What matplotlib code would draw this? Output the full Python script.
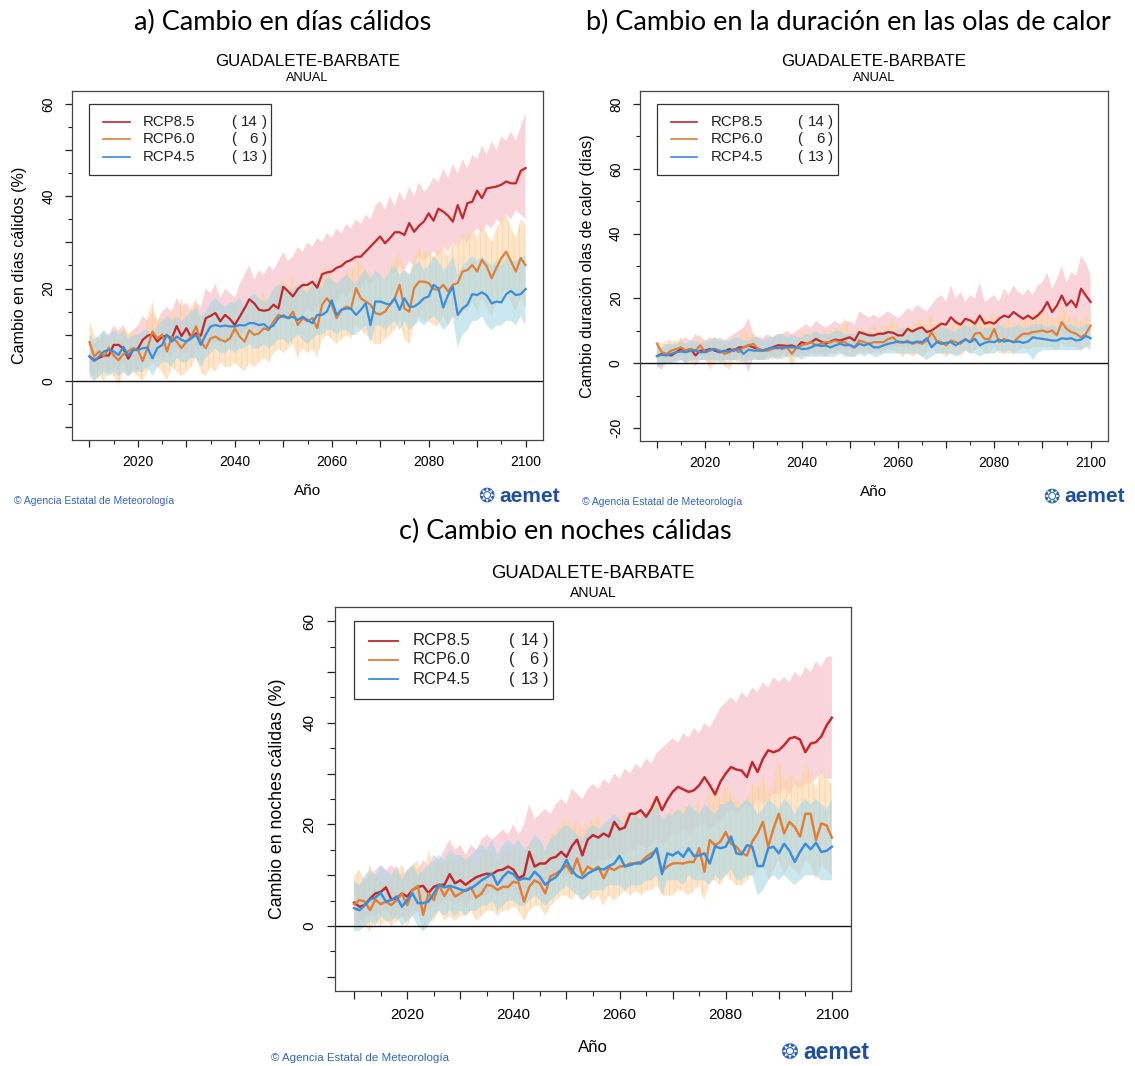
import numpy as np
import matplotlib
matplotlib.use("Agg")
import matplotlib.pyplot as plt
from matplotlib.patches import Rectangle

years = np.arange(2010, 2101)

# a) Cambio en días cálidos (%)
dc_85 = [5.3, 4.5, 5, 5.5, 5.5, 7.8, 7.8, 7, 4.8, 6.7,
         7, 8.9, 9.8, 10.1, 8.5, 9.6, 9.8, 9.2, 11.9, 9.7,
         11.4, 9.4, 10.3, 9.8, 13.6, 14.1, 14.7, 12.9, 14.3, 13.4,
         12.1, 13.9, 15.7, 17.7, 16.8, 15.4, 15.2, 15.4, 16.5, 15.7,
         20.4, 19.4, 18.3, 19.9, 20.8, 20.8, 21.5, 20.2, 23.1, 23.5,
         23.7, 24.5, 24.9, 25.8, 26.2, 26.9, 26.9, 28, 29.1, 30.2,
         31.3, 29.8, 30.9, 32.2, 32.2, 31.6, 34.2, 32.3, 33.6, 34.5,
         36.3, 34.7, 37.3, 36.7, 35.8, 34.5, 38.1, 35.2, 38.5, 38.8,
         41.2, 39.6, 41.7, 41.9, 42.1, 42.5, 43.2, 42.8, 42.8, 45.5,
         46.1]
dc_85_hi = [9, 8, 9, 10, 10, 12, 11, 12, 10, 11,
            12, 14, 13, 15, 13, 15, 16, 15, 18, 16,
            17, 15, 17, 16, 20, 19, 21, 18, 20, 19,
            18, 21, 23, 25, 22, 24, 23, 25, 24, 26,
            28, 26, 27, 29, 28, 30, 29, 31, 30, 32,
            31, 33, 32, 34, 33, 35, 34, 36, 35, 38,
            39, 37, 40, 38, 41, 39, 42, 40, 43, 41,
            42, 44, 43, 46, 44, 47, 45, 48, 46, 49,
            48, 51, 49, 52, 50, 53, 52, 54, 52, 55,
            58]
dc_85_lo = [2, 1, 2, 3, 2, 3, 2, 4, 1, 3,
            2, 4, 5, 4, 6, 5, 6, 5, 7, 6,
            6, 5, 7, 6, 8, 9, 8, 9, 8, 9,
            8, 10, 11, 12, 11, 10, 12, 11, 12, 13,
            14, 13, 14, 15, 14, 16, 15, 16, 17, 18,
            18, 17, 19, 18, 20, 21, 20, 22, 21, 22,
            23, 22, 24, 23, 25, 24, 26, 25, 27, 26,
            27, 28, 27, 29, 28, 30, 29, 31, 30, 32,
            33, 32, 34, 33, 35, 34, 36, 35, 37, 36,
            35]
dc_60 = [8.4, 5.3, 6.4, 5.3, 7.2, 5.5, 4.5, 5.8, 6.4, 7.1,
         6.7, 4.3, 7.2, 10.7, 9.2, 10, 6.4, 9.6, 8.5, 7.1,
         8.5, 9.6, 11.8, 8.5, 7.1, 9.2, 9.6, 8.9, 8.5, 9.2,
         11.4, 9.6, 8.5, 11, 10, 10.3, 11.4, 11, 12.9, 14.3,
         13.9, 13.6, 15, 12.1, 13.6, 12.9, 13.6, 11.4, 16.5, 17.9,
         16.5, 13.6, 15.4, 16.1, 15.7, 20.1, 17.9, 17.2, 16.5, 14.7,
         14.4, 15, 16.5, 17.9, 20.8, 15.7, 15, 20.1, 21.5, 21.5,
         21.2, 19.9, 19.7, 20.8, 19.4, 20.8, 21.2, 23.7, 24, 25.1,
         23.7, 26.2, 24.8, 22.2, 24.5, 26.6, 28, 25.9, 23.7, 26.6,
         25.1]
dc_60_hi = [13, 10, 9, 11, 8, 10, 9, 12, 10, 11,
            10, 9, 14, 17, 13, 14, 12, 16, 13, 18,
            14, 16, 18, 13, 12, 15, 17, 14, 15, 16,
            18, 15, 14, 17, 16, 18, 19, 17, 20, 21,
            22, 20, 23, 19, 21, 20, 22, 19, 24, 25,
            23, 21, 22, 24, 23, 27, 25, 24, 23, 22,
            23, 22, 25, 26, 28, 24, 23, 27, 29, 28,
            28, 27, 28, 29, 27, 30, 29, 32, 31, 33,
            31, 34, 32, 30, 33, 35, 36, 33, 31, 35,
            34]
dc_60_lo = [2, 0, 1, 0, 2, 1, -1, 2, 1, 2,
            1, 0, 2, 4, 3, 2, 0, 3, 2, 1,
            2, 3, 5, 2, 1, 3, 2, 4, 3, 3,
            4, 3, 2, 4, 3, 4, 5, 4, 6, 7,
            6, 7, 8, 5, 7, 6, 7, 5, 9, 10,
            9, 8, 9, 10, 9, 12, 11, 10, 9, 8,
            8, 9, 10, 11, 13, 9, 8, 12, 14, 13,
            13, 12, 12, 14, 12, 14, 13, 16, 15, 17,
            15, 18, 16, 14, 17, 18, 20, 17, 15, 18,
            16]
dc_45 = [5.3, 4.3, 5.3, 6.4, 6.7, 6.4, 5.6, 7.4, 5.5, 6.7,
         6.7, 7.1, 7.2, 4.9, 7.1, 7.8, 10, 8.5, 9.6, 8.9,
         8.5, 9.2, 10, 7.8, 10, 11.8, 12.1, 11.8, 12, 11.8,
         11.8, 12.1, 12, 12.5, 12.5, 12.1, 12.3, 11.4, 12, 13.6,
         14.2, 13.6, 13.9, 13.2, 13.9, 13.2, 12.5, 14.3, 14.3, 15,
         17.5, 14.3, 15.4, 15.7, 15.6, 14.3, 15.4, 16.8, 12.1, 17.2,
         17.2, 16.8, 16.5, 17.9, 15.4, 17.9, 16.1, 16.1, 16.8, 17.9,
         18.3, 20.8, 20.1, 15.9, 18.6, 20.4, 14.3, 15.7, 16.5, 18.8,
         18.6, 19.2, 18.5, 16.8, 17.2, 17, 18.8, 19.5, 18.6, 18.8,
         19.9]
dc_45_hi = [10, 9, 10, 11, 10, 11, 10, 11, 9, 10,
            10, 11, 11, 10, 12, 13, 14, 13, 14, 13,
            14, 15, 16, 14, 15, 17, 18, 17, 16, 17,
            17, 18, 16, 18, 19, 18, 17, 18, 20, 21,
            20, 19, 20, 21, 20, 19, 21, 22, 20, 23,
            22, 21, 22, 23, 22, 21, 23, 24, 22, 24,
            23, 22, 24, 25, 23, 24, 23, 25, 26, 24,
            25, 27, 26, 24, 25, 27, 23, 25, 26, 27,
            26, 27, 26, 25, 26, 25, 27, 26, 26, 27,
            27]
dc_45_lo = [1, 0, 1, 2, 1, 2, 1, 2, 1, 2,
            2, 2, 3, 1, 3, 4, 4, 3, 5, 4,
            4, 5, 5, 3, 5, 6, 7, 6, 6, 7,
            6, 7, 7, 8, 7, 7, 8, 7, 8, 9,
            9, 8, 9, 10, 9, 8, 9, 10, 10, 11,
            11, 10, 11, 11, 10, 10, 11, 12, 8, 12,
            12, 11, 12, 13, 11, 13, 11, 12, 13, 12,
            13, 14, 13, 11, 12, 14, 7, 10, 11, 13,
            13, 14, 12, 11, 12, 12, 13, 13, 12, 14,
            12]

# b) Cambio duración olas de calor (días)
ol_85 = [2.2, 2.9, 2.6, 2.4, 3.4, 4.4, 3.9, 4.4, 2.4, 3.9,
         3.9, 4.4, 3.9, 3.4, 3.6, 4.4, 3.9, 4.9, 4.9, 5.5,
         4.9, 4.4, 3.9, 4.4, 4.9, 5.5, 5.5, 5.3, 5.5, 4.9,
         6.5, 6, 6.5, 7.5, 6.7, 6, 6.7, 7.3, 7, 7.5,
         8, 7, 9.6, 9.1, 8.6, 8.6, 9.1, 9.1, 9.6, 9.4,
         8.6, 8.6, 10.6, 9.8, 10.6, 11.1, 9.6, 10.1, 11.1, 12.2,
         11.9, 14.2, 12.7, 11.9, 13.7, 13.2, 12.2, 14.7, 12.2, 12.7,
         12.2, 13.7, 14.7, 14.2, 15.8, 14.7, 13.7, 14.7, 13.7, 14.7,
         16.3, 18.9, 15.8, 17.8, 20.9, 17.8, 19.4, 17.3, 23, 20.9,
         18.9]
ol_85_hi = [5, 4, 6, 5, 6, 7, 8, 7, 9, 8,
            7, 8, 7, 8, 7, 8, 9, 10, 11, 14,
            9, 8, 8, 9, 8, 9, 9, 10, 9, 10,
            11, 12, 11, 13, 12, 11, 12, 13, 12, 13,
            13, 12, 16, 15, 14, 15, 14, 15, 16, 15,
            14, 15, 17, 16, 18, 17, 16, 18, 20, 21,
            19, 24, 20, 22, 19, 21, 20, 25, 19, 20,
            21, 19, 23, 21, 24, 22, 21, 23, 21, 24,
            25, 28, 23, 26, 30, 25, 28, 27, 33, 31,
            27]
ol_85_lo = [-1, -2, 0, 0, 1, 1, 0, 1, -1, 1,
            1, 0, 1, 1, 1, 1, 1, 2, 1, -3,
            2, 1, 1, 2, 2, 2, 3, 2, 3, 2,
            3, 2, 3, 3, 3, 2, 3, 3, 4, 3,
            4, 3, 4, 4, 4, 4, 4, 4, 5, 5,
            5, 5, 5, 5, 5, 6, 5, 5, 6, 6,
            7, 7, 6, 7, 7, 7, 6, 8, 7, 7,
            7, 8, 8, 8, 8, 7, 8, 8, 8, 9,
            8, 9, 8, 9, 10, 8, 10, 9, 10, 11,
            10]
ol_60 = [6, 3.4, 2.9, 3.9, 4.4, 4.9, 3.9, 4.4, 3.9, 5.5,
         3.4, 3.9, 4.4, 3.9, 2.9, 3.4, 4.4, 3.4, 4.9, 5.5,
         6, 4.4, 3.9, 3.9, 4.4, 4.9, 4.4, 4.9, 2.9, 4.9,
         5.5, 6, 6.5, 5.5, 6, 6.5, 6.5, 7, 6.5, 6.5,
         5.5, 4.9, 7, 6.5, 6, 6.5, 6.5, 6.5, 7.5, 8,
         6.5, 6.3, 7, 6, 6.5, 6, 7, 9.6, 7, 6.5,
         5.5, 7, 6.5, 6, 7.5, 6.5, 9.1, 9.4, 7.5, 7.5,
         10.6, 6.5, 7.5, 7, 6.5, 8, 9.1, 9.1, 9.6, 9.8,
         10.1, 9.6, 10.1, 8.6, 12.7, 10.6, 9.6, 9.1, 8, 9.1,
         11.6]
ol_60_hi = [7, 6, 7, 7, 7, 8, 6, 7, 6, 9,
            6, 7, 8, 7, 6, 7, 8, 7, 11, 9,
            9, 7, 7, 6, 7, 8, 8, 9, 6, 8,
            10, 9, 10, 9, 9, 10, 10, 11, 10, 14,
            10, 9, 11, 10, 11, 12, 10, 11, 12, 14,
            11, 10, 12, 11, 14, 13, 12, 15, 12, 13,
            10, 12, 13, 12, 13, 12, 14, 15, 13, 14,
            16, 11, 13, 14, 12, 13, 14, 15, 14, 16,
            15, 16, 14, 13, 18, 15, 14, 14, 13, 14,
            16]
ol_60_lo = [2, 0, 0, 1, 1, 2, 1, 0, 1, 2,
            1, -2, 0, 1, -1, -2, 1, 0, 1, 2,
            2, 1, 1, 2, 1, 2, 1, 2, -1, 2,
            2, 3, 3, 2, 3, 3, 3, 4, 3, 3,
            2, 2, 3, 3, 3, 3, 3, 3, 4, 4,
            3, 2, 3, 2, 3, 2, 3, 5, 3, 3,
            2, 3, 3, 2, 4, 3, 4, 5, 3, 3,
            5, 3, 3, 3, 3, 4, 5, 4, 5, 5,
            5, 5, 5, 4, 6, 5, 5, 5, 4, 5,
            6]
ol_45 = [2.2, 2.6, 2.4, 2.9, 3.4, 3.6, 3.4, 3.9, 3.9, 3.4,
         3.4, 4.2, 4.4, 3.4, 3.9, 3.6, 4.2, 4.4, 2.9, 4.2,
         3.9, 3.9, 3.9, 4.4, 4.9, 4.6, 4.9, 4.9, 4.9, 4.9,
         4.4, 4.4, 4.9, 5.7, 5.3, 5.5, 4.9, 5.5, 6, 5.5,
         5.7, 4.9, 6, 5.5, 6, 4.9, 4.9, 5.5, 6, 6.3,
         6.7, 6.5, 6.5, 6.3, 6.7, 6.5, 7.7, 4.9, 6.5, 6,
         6.3, 6.5, 5.5, 6.5, 7.3, 6.5, 7.5, 5.5, 6.3, 6.7,
         6.5, 7.3, 6.7, 7, 6.5, 6.7, 6.3, 6.7, 8, 7.7,
         7.5, 7.3, 7, 7, 7.7, 7.5, 7.7, 7, 7.3, 8.4,
         7.7]
ol_45_hi = [5, 5, 6, 6, 6, 7, 6, 7, 7, 6,
            7, 7, 8, 7, 7, 7, 8, 8, 7, 7,
            8, 8, 7, 8, 8, 9, 9, 8, 9, 8,
            8, 9, 9, 10, 9, 9, 9, 10, 10, 9,
            9, 9, 10, 9, 10, 9, 9, 10, 10, 10,
            10, 11, 10, 10, 11, 10, 11, 10, 10, 11,
            11, 10, 10, 11, 12, 11, 12, 10, 11, 11,
            11, 12, 11, 11, 11, 12, 11, 11, 12, 12,
            12, 11, 12, 11, 12, 12, 12, 11, 11, 12,
            12]
ol_45_lo = [-1, -1, 0, 0, 0, 1, 0, 1, 1, 1,
            1, 1, 1, 0, 1, 1, 1, 1, 0, 1,
            1, 1, 1, 1, 2, 1, 2, 2, 2, 2,
            1, 2, 2, 2, 2, 2, 2, 2, 3, 2,
            2, 2, 3, 2, 3, 2, 2, 3, 3, 3,
            3, 3, 3, 3, 3, 2, 1, 2, 3, 3,
            3, 3, 2, 3, 4, 3, 3, 2, 3, 3,
            3, 4, 3, 4, 3, 3, 3, 3, 1, 3,
            4, 4, 4, 4, 4, 4, 4, 4, 4, 5,
            4]

# c) Cambio en noches cálidas (%)
nc_85 = [4.6, 3.8, 4.1, 5.4, 6.4, 6.7, 7.6, 5.2, 5.4, 6.4,
         5.8, 7.1, 7.7, 7.9, 6.5, 7.7, 8.1, 8.1, 10.2, 8.4,
         9, 8.1, 8.9, 9.6, 10, 10.3, 10.2, 10.9, 11.1, 11.7,
         11.1, 9.4, 10, 14.6, 11.7, 12.3, 12.3, 13.3, 13.6, 14.6,
         13.6, 15.7, 17, 13.9, 17, 17.9, 17.4, 18.2, 17.6, 20.5,
         19, 19.4, 22.1, 22.1, 22.8, 21.5, 23.1, 25.4, 22.8, 24.8,
         26.4, 27.4, 26.9, 26.4, 26.7, 27.7, 29.3, 27.7, 25.9, 28.4,
         30, 31.3, 30.8, 30.6, 29.3, 32.3, 30.3, 32.9, 34.6, 34.2,
         34.6, 35.6, 36.9, 37.2, 36.7, 34.2, 35.9, 36.2, 37.3, 39.5,
         41]
nc_85_hi = [9, 8, 9, 10, 11, 12, 11, 12, 11, 10,
            11, 12, 11, 13, 12, 14, 13, 15, 17, 15,
            16, 14, 16, 15, 17, 18, 17, 18, 19, 18,
            20, 18, 20, 24, 21, 22, 23, 22, 24, 25,
            24, 27, 26, 25, 27, 28, 27, 29, 28, 30,
            29, 31, 30, 32, 31, 33, 32, 34, 35, 36,
            37, 36, 38, 37, 39, 38, 40, 39, 41, 43,
            44, 45, 44, 46, 45, 47, 46, 48, 47, 49,
            48, 49, 48, 50, 49, 51, 50, 52, 51, 53,
            53]
nc_85_lo = [1, 0, 1, 2, 2, 3, 3, 2, 1, 2,
            2, 3, 3, 4, 3, 4, 4, 5, 5, 4,
            5, 4, 5, 5, 6, 6, 7, 6, 7, 7,
            7, 6, 7, 8, 8, 8, 9, 9, 10, 10,
            10, 11, 11, 10, 12, 12, 13, 13, 13, 14,
            14, 14, 15, 15, 16, 15, 16, 17, 16, 17,
            18, 18, 19, 18, 19, 20, 20, 19, 20, 21,
            22, 23, 22, 23, 24, 23, 25, 24, 25, 26,
            26, 27, 26, 28, 27, 28, 28, 29, 30, 29,
            29]
nc_60 = [4.3, 5.1, 4.8, 3.1, 5.2, 4.3, 4.8, 4.1, 5.1, 6.4,
         4.1, 7.1, 7.9, 2.2, 6.4, 5.1, 8.1, 5.9, 7.7, 5.8,
         6.4, 7.1, 7.6, 5.6, 6.4, 8.1, 7.9, 7.1, 7.7, 7.7,
         8.7, 8.5, 4.8, 7.7, 9, 8.4, 6.4, 9.8, 10.3, 11,
         12, 10.3, 13.3, 10, 11.7, 11, 11.7, 9.4, 11.5, 11,
         11.7, 11.8, 12.3, 12.4, 12.6, 13.6, 14.3, 14.9, 10.7, 11.7,
         12.3, 12.4, 12.3, 12.6, 12.6, 15.3, 10.7, 16.9, 15.9, 16.6,
         18.5, 16.2, 15.6, 14.3, 13.9, 16.6, 18.2, 20.5, 15.6, 19.2,
         22.1, 18.2, 20.5, 19.5, 17.6, 22.1, 22.1, 16.9, 20.2, 19.8,
         17.4]
nc_60_hi = [10, 11, 9, 12, 10, 9, 8, 10, 11, 12,
            10, 12, 13, 9, 15, 11, 13, 12, 14, 12,
            13, 14, 13, 12, 14, 15, 14, 13, 14, 15,
            15, 16, 13, 17, 16, 17, 14, 18, 19, 20,
            22, 19, 21, 19, 20, 21, 22, 18, 21, 20,
            21, 22, 21, 23, 22, 23, 24, 25, 21, 22,
            23, 22, 24, 23, 22, 25, 21, 26, 27, 25,
            28, 26, 25, 24, 25, 28, 27, 30, 26, 28,
            33, 28, 30, 29, 28, 32, 30, 27, 31, 29,
            28]
nc_60_lo = [-1, 1, 0, -1, 1, 0, 1, 0, 1, 2,
            0, 2, 3, -1, 1, 1, 3, 1, 2, 1,
            2, 2, 3, 1, 2, 3, 3, 2, 3, 3,
            4, 3, 1, 3, 4, 4, 2, 4, 5, 6,
            6, 5, 7, 5, 6, 5, 6, 4, 6, 5,
            6, 7, 6, 7, 6, 7, 7, 8, 6, 6,
            6, 7, 7, 6, 7, 8, 5, 9, 9, 8,
            10, 9, 8, 8, 9, 10, 11, 12, 9, 11,
            13, 10, 12, 11, 10, 13, 12, 9, 12, 11,
            10]
nc_45 = [3.5, 3.1, 4.1, 5.2, 5.6, 6.5, 4.8, 5.1, 5.8, 3.8,
         5.1, 6.4, 4.5, 4.5, 4.8, 6.4, 8.1, 7.6, 7.9, 7.6,
         7.2, 6.9, 7.4, 8.1, 9, 9.6, 10.3, 8.1, 9.6, 10.7,
         10.2, 9, 9.4, 9.2, 10.7, 9.7, 8.1, 9, 9.6, 11,
         13, 11, 9.8, 9.4, 10.3, 10.9, 11.3, 11.1, 11.8, 12.3,
         13.8, 11.7, 12, 12.3, 12.3, 13, 13.6, 15.3, 10.2, 14.3,
         13.9, 14.6, 13.6, 15.3, 13.8, 13.9, 14.3, 12.3, 15.7, 15.3,
         15.6, 17.6, 14.3, 14.1, 15.9, 15.6, 11.8, 11.8, 15.3, 15.6,
         14.3, 16.2, 14.8, 12.6, 14.6, 16.2, 15.1, 16.4, 14.6, 14.8,
         15.6]
nc_45_hi = [9, 8, 10, 11, 10, 12, 11, 10, 12, 9,
            11, 12, 10, 11, 12, 13, 14, 13, 15, 14,
            14, 13, 14, 15, 16, 15, 17, 14, 16, 17,
            16, 17, 15, 16, 18, 17, 15, 17, 18, 19,
            20, 19, 18, 17, 19, 20, 19, 20, 21, 22,
            21, 20, 21, 22, 21, 23, 22, 24, 21, 22,
            22, 23, 22, 24, 23, 22, 24, 23, 22, 24,
            24, 25, 23, 24, 25, 24, 22, 23, 25, 24,
            23, 25, 24, 22, 24, 25, 24, 25, 24, 23,
            25]
nc_45_lo = [-1, -1, 0, 1, 0, 2, 1, 1, 2, 0,
            1, 2, 0, -1, 0, 2, 3, 2, 3, 2,
            3, 2, 3, 3, 4, 4, 5, 3, 4, 5,
            5, 4, 4, 5, 6, 5, 4, 5, 6, 7,
            8, 7, 6, 5, 6, 7, 7, 7, 8, 8,
            8, 7, 8, 8, 8, 9, 9, 10, 6, 9,
            9, 9, 8, 10, 9, 9, 9, 8, 10, 9,
            10, 11, 9, 9, 10, 10, 6, 7, 9, 10,
            9, 10, 9, 8, 9, 10, 10, 10, 9, 9,
            9]

scenarios = ["RCP8.5", "RCP6.0", "RCP4.5"]
n_models = [14, 6, 13]

line_colors = ["#c4282c", "#e27f35", "#3a8ede"]
band_colors = ["#f6b9c4", "#fdd6a8", "#a9d8e7"]
band_hatch = ["", "|||", ""]

SANS = ["Liberation Sans", "DejaVu Sans"]
TITLE_FONT = ["Lato", "DejaVu Sans"]
plt.rcParams["hatch.linewidth"] = 0.5

W, H = 1135, 1066
fig = plt.figure(figsize=(W / 100, H / 100), dpi=100)


def fx(px):
    return px / W


def fy(py):
    return 1 - py / H


def panel(box, s, title, ylabel, ylim, yticks, ymin, label_step, series):
    L, T, R, B = box
    ax = fig.add_axes([fx(L), fy(B), fx(R - L), fy(T) - fy(B)])
    for (mid, lo, hi), fc, hat in zip(series, band_colors, band_hatch):
        ax.fill_between(years, lo, hi, facecolor=fc, alpha=0.6,
                        edgecolor="#fbc488" if hat else "none", hatch=hat or None,
                        linewidth=0, zorder=1)
    for (mid, lo, hi), lc in zip(series, line_colors):
        ax.plot(years, mid, color=lc, lw=1.6 * s, zorder=3)
    ax.axhline(0, color="#111", lw=1.0, zorder=2)

    ax.set_xlim(2006.4, 2103.6)
    ax.set_ylim(*ylim)
    ax.set_xticks(np.arange(2010, 2101, 10))
    ax.set_xticks(np.arange(2015, 2100, 10), minor=True)
    ax.set_xticklabels(["" if y % 20 else str(y) for y in range(2010, 2101, 10)])
    ax.set_yticks(yticks)
    ax.set_yticks(ymin, minor=True)
    ax.set_yticklabels(["" if v % label_step else str(v) for v in yticks],
                       rotation=90, va="center")
    ax.tick_params(axis="both", which="major", length=5 * s, width=0.9,
                   labelsize=10 * s, color="#222")
    ax.tick_params(axis="both", which="minor", length=3.2 * s, width=0.8, color="#222")
    ax.tick_params(axis="x", pad=6 * s)
    ax.tick_params(axis="y", pad=7 * s)
    for sp in ax.spines.values():
        sp.set_color("#444")
        sp.set_linewidth(0.9)
    for lab in ax.get_xticklabels() + ax.get_yticklabels():
        lab.set_family(SANS)

    # legend drawn by hand, R style
    ax.add_patch(Rectangle((0.037, 0.76), 0.386, 0.204, transform=ax.transAxes,
                           facecolor="white", edgecolor="#333", lw=0.9, zorder=5))
    for i, (name, n, lc) in enumerate(zip(scenarios, n_models, line_colors)):
        yy = 0.912 - 0.05 * i
        ax.plot([0.066, 0.123], [yy, yy], transform=ax.transAxes, color=lc,
                lw=1.2 * s, zorder=6)
        kw = dict(transform=ax.transAxes, va="center", fontsize=10.8 * s,
                  family=SANS, zorder=6, color="#222")
        ax.text(0.151, yy, name, **kw)
        ax.text(0.337, yy, "(", **kw)
        ax.text(0.395, yy, str(n), ha="right", **kw)
        ax.text(0.403, yy, ")", **kw)

    cx = (L + R) / 2
    fig.text(fx(cx - 25 * s), fy(T - 69 * s), title, ha="center", va="center",
             fontsize=19.5, family=TITLE_FONT)
    fig.text(fx(cx), fy(T - 30 * s), "GUADALETE-BARBATE", ha="center", va="center",
             fontsize=12.2 * s, family=SANS)
    fig.text(fx(cx), fy(T - 13 * s), "ANUAL", ha="center", va="center",
             fontsize=9.2 * s, family=SANS)
    fig.text(fx(L - 52 * s), fy((T + B) / 2), ylabel, rotation=90, ha="center",
             va="center", fontsize=11.6 * s, family=SANS)
    fig.text(fx(cx), fy(B + 51 * s), "Año", ha="center", va="center",
             fontsize=11 * s, family=SANS)
    fig.text(fx(L - 58 * s), fy(B + 61 * s), "© Agencia Estatal de Meteorología",
             ha="left", va="center", fontsize=7.5 * s, family=SANS, color="#2f64c0")
    fig.text(fx(R + 17 * s), fy(B + 56 * s), "aemet", ha="right", va="center",
             fontsize=15 * s, family=SANS, weight="bold", color="#1f4f9e")
    fig.text(fx(R - 48 * s), fy(B + 56 * s), "❂", ha="right", va="center",
             fontsize=14 * s, family=["DejaVu Sans"], color="#2b64b8")
    return ax


panel((72, 91, 543, 440), 1.0, "a) Cambio en días cálidos", "Cambio en días cálidos (%)",
      (-12.8, 62.8), np.arange(-10, 61, 10), np.arange(-5, 60, 10), 20,
      [(dc_85, dc_85_lo, dc_85_hi), (dc_60, dc_60_lo, dc_60_hi), (dc_45, dc_45_lo, dc_45_hi)])

panel((639.6, 91, 1108, 441), 1.0, "b) Cambio en la duración en las olas de calor",
      "Cambio duración olas de calor (días)",
      (-24, 84), np.arange(-20, 81, 20), np.arange(-10, 80, 20), 20,
      [(ol_85, ol_85_lo, ol_85_hi), (ol_60, ol_60_lo, ol_60_hi), (ol_45, ol_45_lo, ol_45_hi)])

panel((335, 607, 851, 991), 1.1, "c) Cambio en noches cálidas", "Cambio en noches cálidas (%)",
      (-12.8, 62.8), np.arange(-10, 61, 10), np.arange(-5, 60, 10), 20,
      [(nc_85, nc_85_lo, nc_85_hi), (nc_60, nc_60_lo, nc_60_hi), (nc_45, nc_45_lo, nc_45_hi)])

fig.savefig("out.png", dpi=100)
